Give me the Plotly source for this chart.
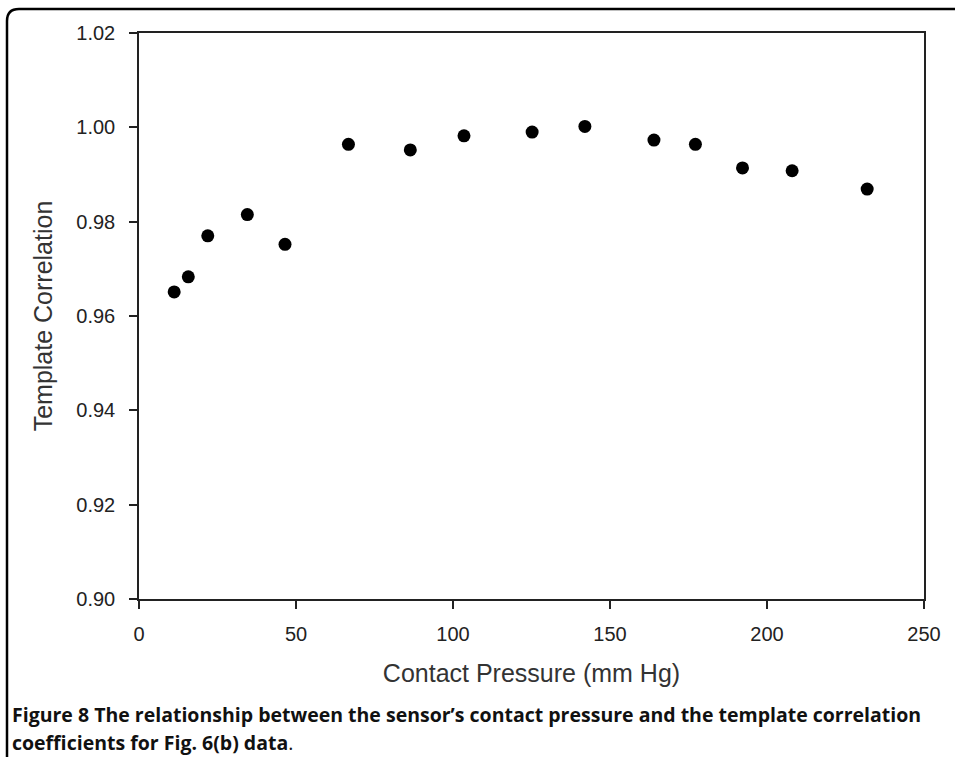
import plotly.graph_objects as go

# Data
pressure = [11.2, 15.7, 21.9, 34.5, 46.5, 66.7, 86.4, 103.5, 125.2, 142.0, 164.0, 177.2, 192.2, 208.0, 231.9]
correlation = [0.9651, 0.9683, 0.9770, 0.9815, 0.9752, 0.9964, 0.9952, 0.9982, 0.9990, 1.0002,
               0.9973, 0.9964, 0.9914, 0.9908, 0.9869]

x_ticks = [0, 50, 100, 150, 200, 250]
y_ticks = [0.90, 0.92, 0.94, 0.96, 0.98, 1.00, 1.02]

W, H = 955, 757
L, R, T, B = 139, 31, 33, 158
PW, PH = W - L - R, H - T - B


def px_x(px):
    return (px - L) / PW


def px_y(py):
    return (H - B - py) / PH


fig = go.Figure()
fig.add_trace(go.Scatter(
    x=pressure, y=correlation, mode="markers",
    marker=dict(symbol="circle", size=13, color="#000000"),
    showlegend=False, hoverinfo="x+y",
))

axis_font = dict(family="Liberation Sans, Arial, sans-serif", size=20, color="#222222")
title_font = dict(family="Liberation Sans, Arial, sans-serif", size=25, color="#333333")

fig.update_xaxes(
    range=[0, 250], tickvals=x_ticks, ticktext=[str(v) for v in x_ticks],
    ticks="outside", ticklen=8, tickwidth=1.5, tickcolor="#222222",
    showline=True, linecolor="#222222", linewidth=1.5, mirror=True,
    showgrid=False, zeroline=False, tickfont=axis_font,
    ticklabelstandoff=8,
    title=dict(text="Contact Pressure (mm Hg)", font=title_font, standoff=21),
)
fig.update_yaxes(
    range=[0.90, 1.02], tickvals=y_ticks, ticktext=[f"{v:.2f}" for v in y_ticks],
    ticks="outside", ticklen=8, tickwidth=1.5, tickcolor="#222222",
    showline=True, linecolor="#222222", linewidth=1.5, mirror=True,
    showgrid=False, zeroline=False, tickfont=axis_font,
    ticklabelstandoff=10,
    title=dict(text="Template Correlation", font=title_font, standoff=17),
)

# outer frame (rounded top-left corner)
xL, xR = px_x(7), px_x(960)
yT, yB = px_y(9), px_y(765)
rx, ry = 12 / PW, 12 / PH
frame_path = (f"M {xL},{yB} L {xL},{yT - ry} Q {xL},{yT} {xL + rx},{yT} L {xR},{yT}")
fig.add_shape(type="path", path=frame_path, xref="paper", yref="paper",
              line=dict(color="#000000", width=2.5), layer="above")

cap_font = dict(family="Open Sans, Noto Sans, sans-serif", size=19.5, color="#111111")
fig.add_annotation(
    text="<b>Figure 8</b> <b>The relationship between the sensor’s contact pressure and the template correlation</b>",
    xref="paper", yref="paper", x=px_x(10), y=px_y(714), xanchor="left", yanchor="middle",
    showarrow=False, font=cap_font, align="left",
)
fig.add_annotation(
    text="<b>coefficients for Fig. 6(b) data</b>.",
    xref="paper", yref="paper", x=px_x(10), y=px_y(742), xanchor="left", yanchor="middle",
    showarrow=False, font=cap_font, align="left",
)

fig.update_layout(
    width=W, height=H,
    margin=dict(l=L, r=R, t=T, b=B, autoexpand=False),
    paper_bgcolor="#ffffff", plot_bgcolor="#ffffff",
)

fig.write_html("out.html")
